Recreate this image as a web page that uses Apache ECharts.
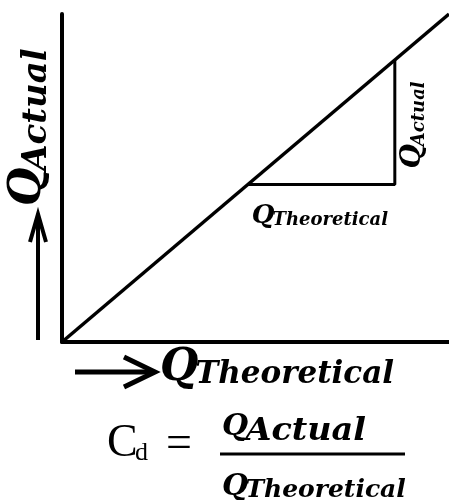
<!DOCTYPE html>
<html>
<head>
<meta charset="utf-8">
<script src="https://cdn.jsdelivr.net/npm/echarts@6/dist/echarts.min.js"></script>
<style>
  html, body { margin: 0; padding: 0; background: #fff; }
  #chart { width: 449px; height: 500px; }
</style>
</head>
<body>
<div id="chart"></div>
<script>
// Q_actual vs Q_theoretical: straight line through the origin
const lineX = [0, 100]
const lineY = [0, 100]
// slope triangle sitting on the line
const triX = [48, 86, 86]
const triY = [48, 48, 86]

const FONT = '"DejaVu Serif"'
const chart = echarts.init(document.getElementById('chart'))

function pairs (xs, ys) {
  return xs.map((x, i) => [x, ys[i]])
}

// Q with a subscript; x/y = start of Q on its baseline
function qLabel (sub, qSize, sSize, o) {
  const k = 0.32
  return {
    type: 'group',
    x: o.x,
    y: o.y,
    rotation: o.rot || 0,
    children: [
      {
        type: 'text',
        x: 0,
        y: -qSize * k,
        style: { text: 'Q', font: `italic bold ${qSize}px ${FONT}`, fill: '#000', textAlign: 'left', textVerticalAlign: 'middle' }
      },
      {
        type: 'text',
        x: qSize * (o.qw || 0.8),
        y: (o.drop || 0) - sSize * k,
        scaleX: o.sx || 1,
        style: { text: sub, font: `italic bold ${sSize}px ${FONT}`, fill: '#000', textAlign: 'left', textVerticalAlign: 'middle' }
      }
    ]
  }
}

chart.setOption({
  animation: false,
  grid: { left: 62, right: 0, top: 14, bottom: 158 },
  xAxis: {
    type: 'value',
    min: 0,
    max: 100,
    axisLine: { show: true, lineStyle: { color: '#000', width: 4 } },
    axisTick: { show: false },
    axisLabel: { show: false },
    splitLine: { show: false }
  },
  yAxis: {
    type: 'value',
    min: 0,
    max: 100,
    axisLine: { show: true, lineStyle: { color: '#000', width: 4 } },
    axisTick: { show: false },
    axisLabel: { show: false },
    splitLine: { show: false }
  },
  series: [
    {
      type: 'line',
      data: pairs(lineX, lineY),
      symbol: 'none',
      silent: true,
      lineStyle: { color: '#000', width: 3.5 }
    },
    {
      type: 'line',
      data: pairs(triX, triY),
      symbol: 'none',
      silent: true,
      lineStyle: { color: '#000', width: 3 }
    }
  ]
})

const pA = chart.convertToPixel({ gridIndex: 0 }, [triX[0], triY[0]])
const pB = chart.convertToPixel({ gridIndex: 0 }, [triX[1], triY[1]])

chart.setOption({
  graphic: [
    // labels on the slope triangle
    qLabel('Theoretical', 26, 18, { x: pA[0] + 4, y: pA[1] + 40, drop: 2 }),
    qLabel('Actual', 28, 18, { x: pB[0] + 27, y: pB[1] - 16, rot: Math.PI / 2, drop: 3 }),
    // y axis title with arrow
    qLabel('Actual', 44, 34, { x: 43, y: 206, rot: Math.PI / 2, drop: 5 }),
    { type: 'polyline', shape: { points: [[38, 340], [38, 216]] }, style: { stroke: '#000', lineWidth: 4, fill: null } },
    { type: 'polyline', shape: { points: [[30, 242], [38, 214], [46, 242]] }, style: { stroke: '#000', lineWidth: 4, fill: null, lineJoin: 'miter' } },
    // x axis title with arrow
    { type: 'polyline', shape: { points: [[75, 372], [152, 372]] }, style: { stroke: '#000', lineWidth: 5, fill: null } },
    { type: 'polyline', shape: { points: [[124, 357], [155, 372], [124, 387]] }, style: { stroke: '#000', lineWidth: 5, fill: null, lineJoin: 'miter' } },
    qLabel('Theoretical', 44, 31, { x: 160, y: 383, drop: 2 }),
    // Cd = Qactual / Qtheoretical
    { type: 'text', x: 107, y: 459 - 46 * 0.32, style: { text: 'C', font: '46px "Liberation Serif"', fill: '#000', textVerticalAlign: 'middle' } },
    { type: 'text', x: 135, y: 461 - 26 * 0.32, style: { text: 'd', font: '26px "Liberation Serif"', fill: '#000', textVerticalAlign: 'middle' } },
    { type: 'text', x: 166, y: 460 - 46 * 0.32, style: { text: '=', font: '46px "Liberation Serif"', fill: '#000', textVerticalAlign: 'middle' } },
    qLabel('Actual', 30, 31, { x: 222, y: 437, drop: 5, qw: 0.78, sx: 1.08 }),
    { type: 'polyline', shape: { points: [[220, 454], [405, 454]] }, style: { stroke: '#000', lineWidth: 3, fill: null } },
    qLabel('Theoretical', 30, 25, { x: 222, y: 497, drop: 1, qw: 0.78 })
  ]
})
</script>
</body>
</html>
